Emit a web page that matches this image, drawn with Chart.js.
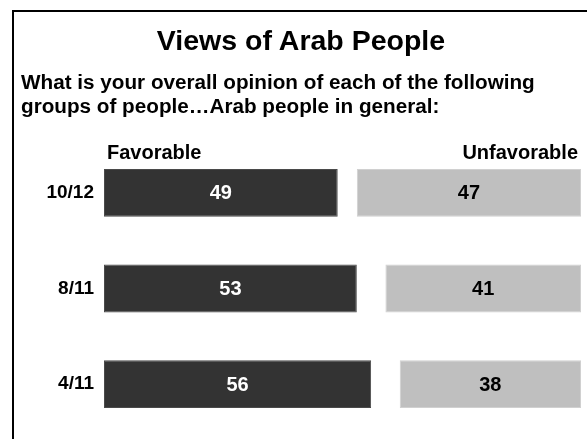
<!DOCTYPE html>
<html>
<head>
<meta charset="utf-8">
<script src="https://cdn.jsdelivr.net/npm/chart.js@4"></script>
<style>
  html, body { margin: 0; background: #fff; overflow: hidden; }
  #wrap { position: relative; width: 587px; height: 439px; overflow: hidden;
          font-family: "Liberation Sans", Arial, sans-serif; font-weight: bold; color: #000; }
  #title { position: absolute; left: 12px; width: 578px; top: 26px; text-align: center;
           font-size: 28.5px; line-height: 28px; }
  #subtitle { position: absolute; left: 21px; top: 70px; font-size: 20.7px; line-height: 24px; }
  canvas { position: absolute; left: 0; top: 0; }
</style>
</head>
<body>
<div id="wrap">
  <canvas id="chart" width="587" height="439"></canvas>
  <div id="title">Views of Arab People</div>
  <div id="subtitle">What is your overall opinion of each of the following<br>groups of people…Arab people in general:</div>
</div>
<script>
const dates = ['10/12', '8/11', '4/11'];
const favorable = [49, 53, 56];
const unfavorable = [47, 41, 38];
const columnLabels = ['Favorable', 'Unfavorable'];

// spacer between the two bars so unfavorable ends at 100
const gap = favorable.map((f, i) => 100 - f - unfavorable[i]);

const FONT = '"Liberation Sans", Arial, sans-serif';

// left and top rule of the slide frame
const framePlugin = {
  id: 'frame',
  beforeDraw(chart) {
    const ctx = chart.ctx;
    ctx.save();
    ctx.fillStyle = '#000';
    ctx.fillRect(12, 10, 2, chart.height - 10);
    ctx.fillRect(12, 10, chart.width - 12, 2);
    ctx.restore();
  },
  afterDraw(chart) {
    // keep the strip right of the plot clean
    const ctx = chart.ctx;
    ctx.save();
    ctx.fillStyle = '#fff';
    ctx.fillRect(chart.chartArea.right + 1, 12, chart.width - chart.chartArea.right, chart.height - 12);
    ctx.restore();
  }
};

const labelPlugin = {
  id: 'barLabels',
  afterDatasetsDraw(chart) {
    const ctx = chart.ctx;
    const x = chart.scales.x;
    const top = chart.chartArea.top;
    ctx.save();
    ctx.font = 'bold 20px ' + FONT;
    ctx.textBaseline = 'alphabetic';
    ctx.fillStyle = '#000';
    ctx.textAlign = 'left';
    ctx.fillText(columnLabels[0], x.getPixelForValue(0) + 3, top + 14);
    ctx.textAlign = 'right';
    ctx.fillText(columnLabels[1], x.getPixelForValue(100) - 3, top + 14);

    ctx.textAlign = 'center';
    ctx.textBaseline = 'middle';
    [[0, favorable, '#fff'], [2, unfavorable, '#000']].forEach(([di, vals, col]) => {
      chart.getDatasetMeta(di).data.forEach((bar, i) => {
        ctx.fillStyle = col;
        ctx.fillText(String(vals[i]), (bar.x + bar.base) / 2, bar.y + 1);
      });
    });
    ctx.restore();
  }
};

new Chart(document.getElementById('chart'), {
  type: 'bar',
  data: {
    labels: dates,
    datasets: [
      { label: 'Favorable', data: favorable, backgroundColor: '#333333',
        borderColor: '#4a4a4a', borderWidth: 1, borderSkipped: false },
      { label: 'gap', data: gap, backgroundColor: 'rgba(0,0,0,0)', borderWidth: 0 },
      { label: 'Unfavorable', data: unfavorable, backgroundColor: '#bfbfbf',
        borderColor: '#d0d0d0', borderWidth: 1, borderSkipped: false }
    ]
  },
  options: {
    indexAxis: 'y',
    responsive: false,
    animation: false,
    layout: { padding: { top: 145, right: 6, bottom: 7, left: 0 } },
    datasets: { bar: { categoryPercentage: 1, barPercentage: 0.5 } },
    scales: {
      x: { stacked: true, min: 0, max: 100, display: false },
      y: {
        stacked: true,
        grid: { display: false },
        border: { display: false },
        ticks: { color: '#000', padding: 2, font: { family: FONT, size: 19, weight: 'bold' } },
        afterFit(scale) {
          scale.width = 104;
          scale.paddingTop = 0;
          scale.paddingBottom = 0;
        }
      }
    },
    plugins: { legend: { display: false }, tooltip: { enabled: false } }
  },
  plugins: [framePlugin, labelPlugin]
});
</script>
</body>
</html>
